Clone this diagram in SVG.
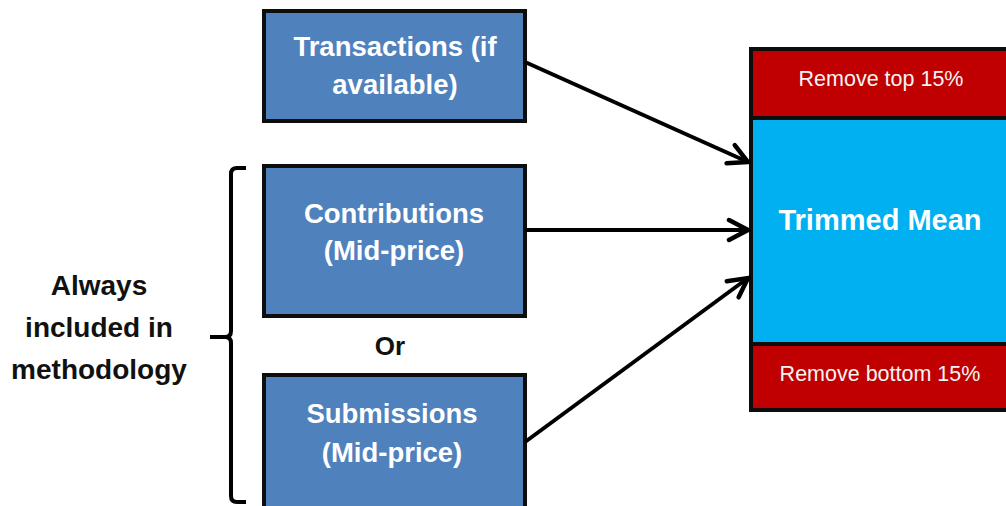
<svg xmlns="http://www.w3.org/2000/svg" width="1006" height="506" viewBox="0 0 1006 506">
<style>
.box{fill:#4F81BD;stroke:#0d0d0d;stroke-width:4}
.bt{font-family:"Liberation Sans",Arial,sans-serif;font-weight:bold;font-size:27.5px;fill:#ffffff;text-anchor:middle}
.lbl{font-family:"Liberation Sans",Arial,sans-serif;font-weight:bold;font-size:28px;fill:#111111;text-anchor:middle}
.red{fill:#C00000;stroke:#0d0d0d;stroke-width:4}
.cyan{fill:#00B0F0;stroke:#0d0d0d;stroke-width:4}
.rt{font-family:"Liberation Sans",Arial,sans-serif;font-size:21.5px;fill:#f4f4f4;text-anchor:middle}
.conn{stroke:#000;stroke-width:4;fill:none}
</style>
<defs>
<marker id="arr" markerUnits="userSpaceOnUse" markerWidth="28" markerHeight="28" viewBox="0 0 28 28" refX="25" refY="14" orient="auto">
<path d="M6,4 L25,14 L6,24" fill="none" stroke="#000" stroke-width="4.5" stroke-linecap="round" stroke-linejoin="miter"/>
</marker>
</defs>
<rect width="1006" height="506" fill="#ffffff"/>
<g id="transactions">
<rect class="box" x="264" y="11" width="261" height="110"/>
<text class="bt" x="395" y="56">Transactions (if</text>
<text class="bt" x="395" y="94">available)</text>
</g>
<g id="contributions">
<rect class="box" x="264" y="166" width="261" height="150"/>
<text class="bt" x="394" y="223">Contributions</text>
<text class="bt" x="394" y="260">(Mid-price)</text>
</g>
<g id="or">
<text class="lbl" x="390" y="355" style="font-size:26px">Or</text>
</g>
<g id="submissions">
<rect class="box" x="264" y="375" width="261" height="140"/>
<text class="bt" x="392" y="423">Submissions</text>
<text class="bt" x="392" y="462">(Mid-price)</text>
</g>
<g id="always">
<path class="conn" d="M246,168 H237 Q231,168 231,174 V331 Q231,337 225,337 H210 M225,337 Q231,337 231,343 V496 Q231,502 237,502 H246" stroke-width="3.5"/>
<text class="lbl" x="99" y="295">Always</text>
<text class="lbl" x="99" y="337">included in</text>
<text class="lbl" x="99" y="379">methodology</text>
</g>
<g id="trimmed">
<rect class="red" x="751" y="49" width="260" height="69"/>
<rect class="cyan" x="751" y="118" width="260" height="226"/>
<rect class="red" x="751" y="344" width="260" height="66"/>
<text class="rt" x="881" y="86">Remove top 15%</text>
<text class="bt" x="880" y="230" style="font-size:29px">Trimmed Mean</text>
<text class="rt" x="880" y="381">Remove bottom 15%</text>
</g>
<g id="connectors">
<line class="conn" x1="525" y1="62" x2="748" y2="162" marker-end="url(#arr)"/>
<line class="conn" x1="525" y1="230" x2="748" y2="230" marker-end="url(#arr)"/>
<line class="conn" x1="525" y1="442" x2="748" y2="278" marker-end="url(#arr)"/>
</g>
</svg>
